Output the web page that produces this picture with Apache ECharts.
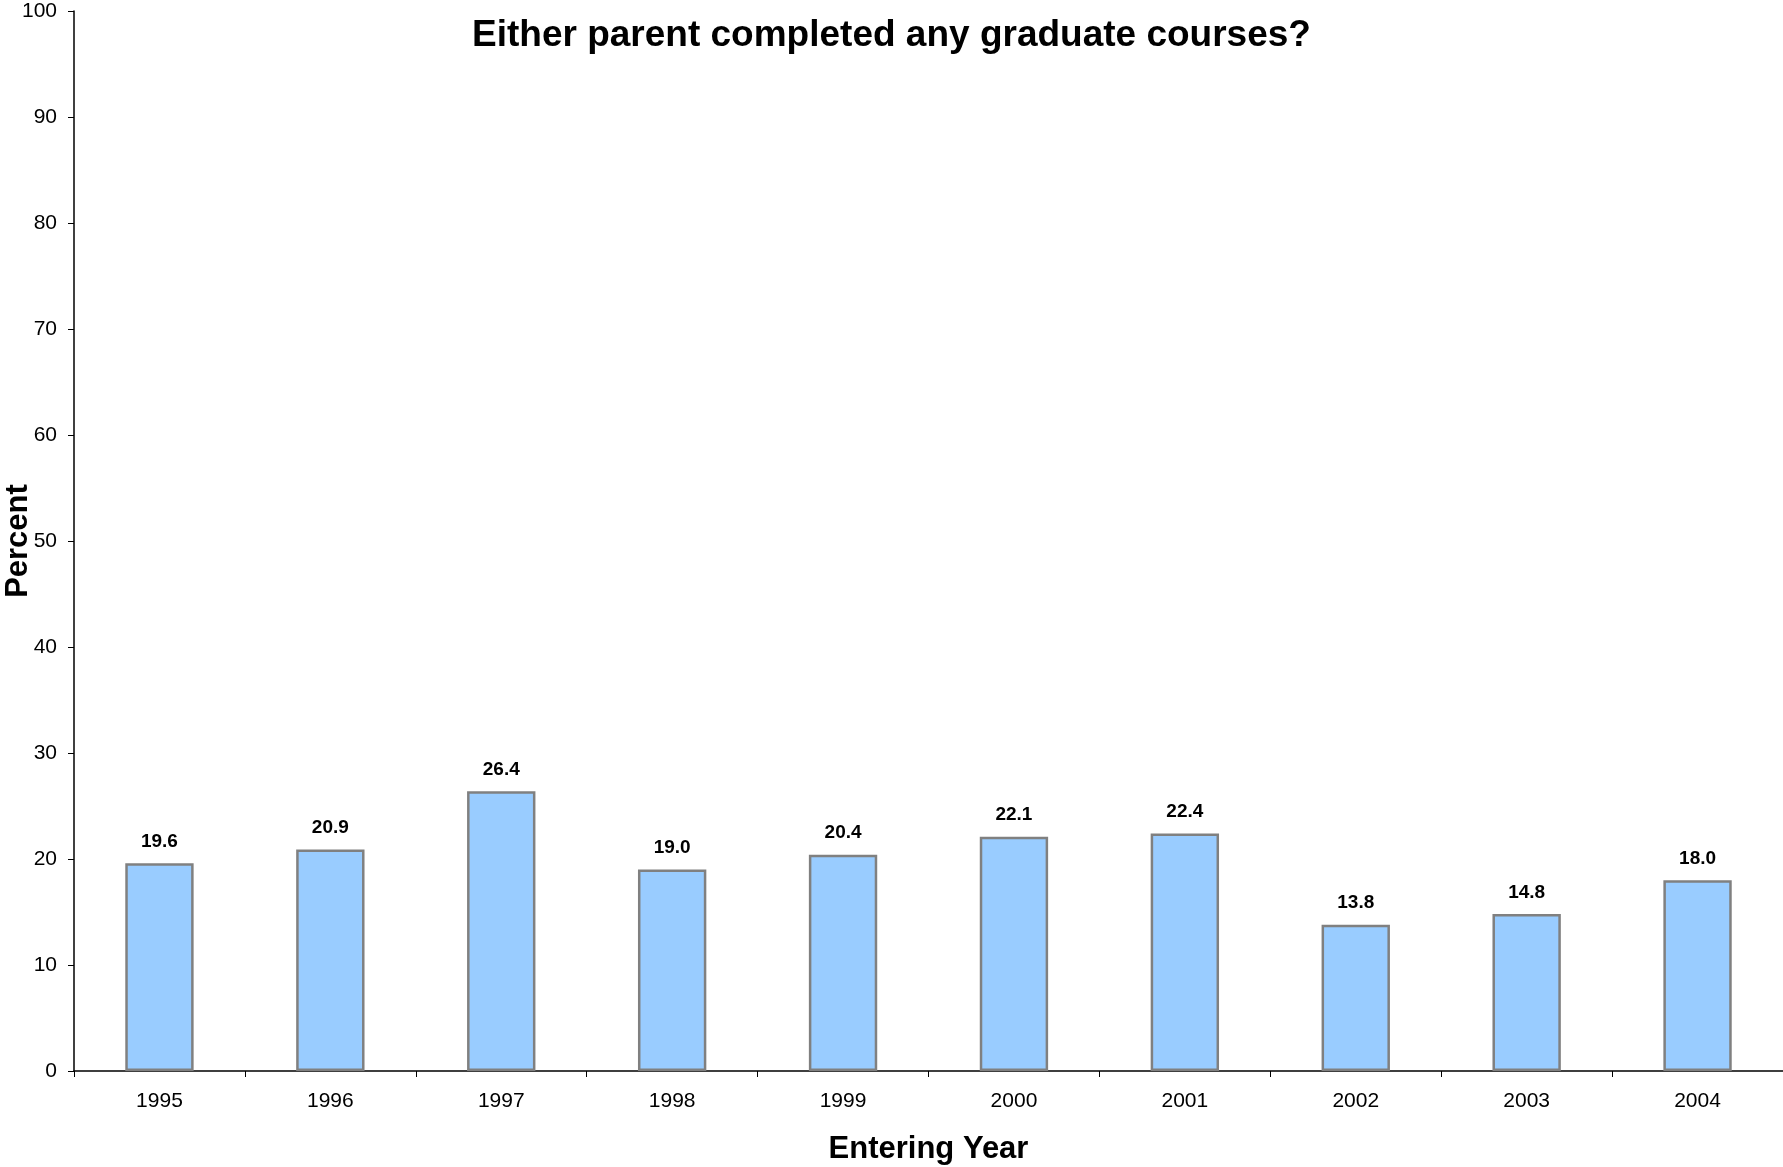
<!DOCTYPE html>
<html>
<head>
<meta charset="utf-8">
<script src="https://cdn.jsdelivr.net/npm/echarts@6/dist/echarts.min.js"></script>
<style>
html,body{margin:0;padding:0;background:#fff;}
#chart{width:1783px;height:1167px;}
</style>
</head>
<body>
<div id="chart"></div>
<script>
const titleText = 'Either parent completed any graduate courses?';
const categories = ['1995','1996','1997','1998','1999','2000','2001','2002','2003','2004'];
const values = [19.6, 20.9, 26.4, 19.0, 20.4, 22.1, 22.4, 13.8, 14.8, 18.0];
const xAxisName = 'Entering Year';
const yAxisName = 'Percent';

const FONT = '"Liberation Sans", Arial, sans-serif';
const chart = echarts.init(document.getElementById('chart'), null, {renderer: 'canvas'});
chart.setOption({
  animation: false,
  backgroundColor: '#ffffff',
  title: {
    text: titleText,
    left: 'center',
    top: 12,
    textStyle: {fontFamily: FONT, fontSize: 37, fontWeight: 'bold', color: '#000'}
  },
  grid: {left: 74, right: 0, top: 11, bottom: 96, containLabel: false, outerBoundsMode: 'none'},
  xAxis: {
    type: 'category',
    data: categories,
    name: xAxisName,
    nameLocation: 'middle',
    nameGap: 63,
    nameTextStyle: {fontFamily: FONT, fontSize: 31, fontWeight: 'bold', color: '#000'},
    axisLine: {lineStyle: {color: '#000', width: 1.5}},
    axisTick: {show: true, length: 6, lineStyle: {color: '#000'}},
    axisLabel: {fontFamily: FONT, fontSize: 21, color: '#000', margin: 20},
    splitLine: {show: false}
  },
  yAxis: {
    type: 'value',
    min: 0, max: 100, interval: 10,
    name: yAxisName,
    nameLocation: 'middle',
    nameGap: 40,
    nameMoveOverlap: false,
    nameTextStyle: {fontFamily: FONT, fontSize: 31, fontWeight: 'bold', color: '#000'},
    axisLine: {show: true, lineStyle: {color: '#000', width: 1.5}},
    axisTick: {show: true, length: 6, lineStyle: {color: '#000'}},
    axisLabel: {fontFamily: FONT, fontSize: 21, color: '#000', margin: 17},
    splitLine: {show: false}
  },
  series: [{
    type: 'bar',
    data: values,
    barWidth: '40%',
    itemStyle: {color: '#99CCFF', borderColor: '#808080', borderWidth: 2.5},
    label: {
      show: true,
      position: 'top',
      distance: 12,
      formatter: p => p.value.toFixed(1),
      fontFamily: FONT, fontSize: 19, fontWeight: 'bold', color: '#000'
    }
  }]
});
</script>
</body>
</html>
